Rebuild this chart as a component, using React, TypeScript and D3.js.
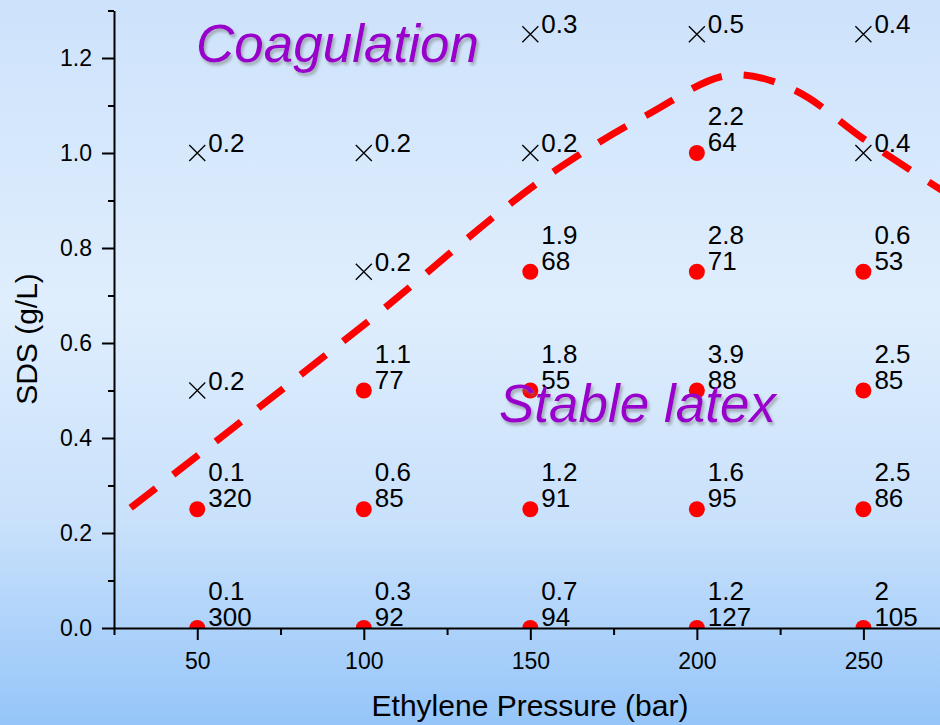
import React, { useEffect, useRef } from "react";
import * as d3 from "d3";

const stableX = [50, 50, 100, 100, 100, 150, 150, 150, 150, 200, 200, 200, 200, 200, 250, 250, 250, 250];
const stableY = [0, 0.25, 0, 0.25, 0.5, 0, 0.25, 0.5, 0.75, 0, 0.25, 0.5, 0.75, 1.0, 0, 0.25, 0.5, 0.75];
const stableTop = ["0.1", "0.1", "0.3", "0.6", "1.1", "0.7", "1.2", "1.8", "1.9", "1.2", "1.6", "3.9", "2.8", "2.2", "2", "2.5", "2.5", "0.6"];
const stableBottom = ["300", "320", "92", "85", "77", "94", "91", "55", "68", "127", "95", "88", "71", "64", "105", "86", "85", "53"];

const coagX = [50, 50, 100, 100, 150, 150, 200, 250, 250];
const coagY = [0.5, 1.0, 0.75, 1.0, 1.0, 1.25, 1.25, 1.0, 1.25];
const coagLabel = ["0.2", "0.2", "0.2", "0.2", "0.2", "0.3", "0.5", "0.4", "0.4"];

const boundaryX = [30, 100, 160, 185, 212, 230, 250, 275];
const boundaryY = [0.253, 0.638, 0.975, 1.08, 1.165, 1.13, 1.03, 0.915];

const xMajorTicks = [50, 100, 150, 200, 250];
const xMinorTicks = [25, 75, 125, 175, 225];
const yMajorTicks = [0, 0.2, 0.4, 0.6, 0.8, 1.0, 1.2];
const yMinorTicks = [0.1, 0.3, 0.5, 0.7, 0.9, 1.1, 1.3];

const W = 940;
const H = 725;
const FONT = "'Liberation Sans', Arial, Helvetica, sans-serif";

export default function App() {
  const xAxisRef = useRef<SVGGElement>(null);
  const yAxisRef = useRef<SVGGElement>(null);

  const x = d3.scaleLinear().domain([25, 273]).range([114, 940]);
  const y = d3.scaleLinear().domain([0, 1.3]).range([628, 10.5]);

  useEffect(() => {
    const gx = d3.select(xAxisRef.current!);
    gx.selectAll("*").remove();
    gx.append("g")
      .call(d3.axisBottom(x).tickValues(xMinorTicks).tickSize(7).tickSizeOuter(0).tickFormat(() => ""))
      .call((g) => g.select(".domain").remove());
    gx.append("g")
      .call(d3.axisBottom(x).tickValues(xMajorTicks).tickSize(12).tickPadding(13).tickSizeOuter(0).tickFormat(d3.format("d")));
    gx.selectAll("line,path").attr("stroke", "#000").attr("stroke-width", 2);
    gx.selectAll("text").attr("fill", "#000").attr("font-size", 23).attr("font-family", FONT);

    const gy = d3.select(yAxisRef.current!);
    gy.selectAll("*").remove();
    gy.append("g")
      .call(d3.axisLeft(y).tickValues(yMinorTicks).tickSize(6).tickSizeOuter(0).tickFormat(() => ""))
      .call((g) => g.select(".domain").remove());
    gy.append("g")
      .call(d3.axisLeft(y).tickValues(yMajorTicks).tickSize(12).tickPadding(10).tickSizeOuter(0).tickFormat(d3.format(".1f")));
    gy.selectAll("line,path").attr("stroke", "#000").attr("stroke-width", 2);
    gy.selectAll("text").attr("fill", "#000").attr("font-size", 23).attr("font-family", FONT);
  });

  const line = d3
    .line<number>()
    .x((_, i) => x(boundaryX[i]))
    .y((d) => y(d))
    .curve(d3.curveMonotoneX);

  return (
    <svg width={W} height={H} style={{ position: "absolute", left: 0, top: 0, display: "block" }} fontFamily={FONT}>
      <defs>
        <linearGradient id="bg" x1="0" y1="0" x2="0" y2="1">
          <stop offset="0" stopColor="#cde2fb" />
          <stop offset="0.42" stopColor="#dfeefd" />
          <stop offset="0.72" stopColor="#c9e1fb" />
          <stop offset="1" stopColor="#95c5f9" />
        </linearGradient>
        <clipPath id="plot">
          <rect x={114} y={0} width={W - 114} height={628} />
        </clipPath>
        <filter id="shadow" x="-10%" y="-20%" width="130%" height="160%">
          <feDropShadow dx="2" dy="3" stdDeviation="1.5" floodColor="#777" floodOpacity="0.55" />
        </filter>
      </defs>
      <rect x={0} y={0} width={W} height={H} fill="url(#bg)" />

      <g clipPath="url(#plot)">
        {stableX.map((d, i) => (
          <circle key={"c" + i} cx={x(d)} cy={y(stableY[i])} r={8} fill="#ff0000" />
        ))}
      </g>
      {coagX.map((d, i) => (
        <path
          key={"x" + i}
          transform={`translate(${x(d)},${y(coagY[i])})`}
          d="M-8,-8L8,8M-8,8L8,-8"
          stroke="#000"
          strokeWidth={1.3}
          fill="none"
        />
      ))}

      <g ref={xAxisRef} transform="translate(0,628)" />
      <g ref={yAxisRef} transform="translate(114,0)" />

      <g fontSize={26} fill="#000">
        {stableX.map((d, i) => (
          <g key={"t" + i}>
            <text x={x(d) + 11} y={y(stableY[i]) - 28}>{stableTop[i]}</text>
            <text x={x(d) + 11} y={y(stableY[i]) - 2}>{stableBottom[i]}</text>
          </g>
        ))}
        {coagX.map((d, i) => (
          <text key={"ct" + i} x={x(d) + 11} y={y(coagY[i]) - 1}>{coagLabel[i]}</text>
        ))}
      </g>

      <g clipPath="url(#plot)">
        <path
          d={line(boundaryY) || ""}
          fill="none"
          stroke="#ff0000"
          strokeWidth={7}
          strokeDasharray="32 22"
        />
      </g>

      <text x={196} y={62} fontSize={53} fontStyle="italic" fill="#9900cc" filter="url(#shadow)">
        Coagulation
      </text>
      <text x={499} y={422} fontSize={53} fontStyle="italic" fill="#9900cc" filter="url(#shadow)">
        Stable latex
      </text>

      <text x={530} y={716} fontSize={30} textAnchor="middle" fill="#000">
        Ethylene Pressure (bar)
      </text>
      <text transform="translate(37,339) rotate(-90)" fontSize={30} textAnchor="middle" fill="#000">
        SDS (g/L)
      </text>
    </svg>
  );
}
